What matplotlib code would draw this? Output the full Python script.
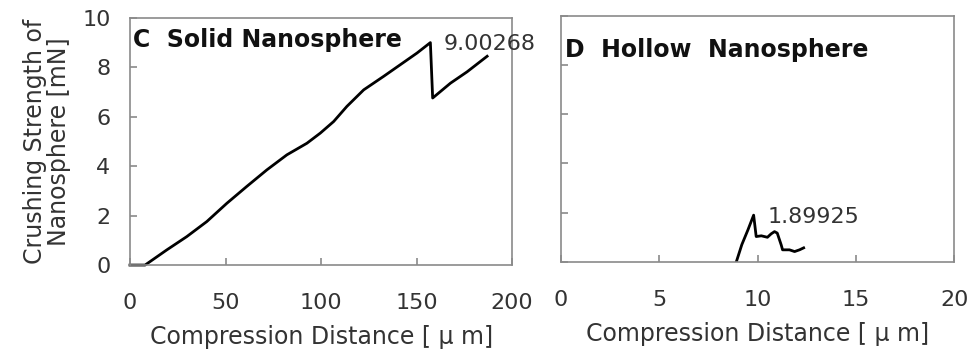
import matplotlib.pyplot as plt

# C: solid nanosphere
solid_x = [0, 7.9, 19.2, 29.7, 40.2, 50.7, 61.1, 71.6, 82.1, 92.6, 99.6, 106.6,
           113.5, 122.3, 132.8, 141.5, 150.2, 157.2, 158.4, 167.7, 176.4, 186.9]
solid_y = [0, 0, 0.61, 1.15, 1.76, 2.5, 3.18, 3.85, 4.46, 4.93, 5.34, 5.81,
           6.42, 7.09, 7.64, 8.11, 8.58, 9.00268, 6.76, 7.36, 7.82, 8.45]

# D: hollow nanosphere
hollow_x = [8.92, 9.2, 9.51, 9.8, 9.93, 10.19, 10.5, 10.69, 10.86, 11.0, 11.2,
            11.27, 11.62, 11.88, 12.13, 12.34]
hollow_y = [0.0, 0.7, 1.3, 1.89925, 1.03, 1.06, 1.0, 1.14, 1.23, 1.17, 0.69,
            0.49, 0.49, 0.42, 0.49, 0.57]

x_ticks_c = [0, 50, 100, 150, 200]
x_ticks_d = [0, 5, 10, 15, 20]
y_ticks = [0, 2, 4, 6, 8, 10]

txt = '#333333'
spine = '#8a8a8a'

fig = plt.figure(figsize=(9.7, 3.52), dpi=100)
ax1 = fig.add_axes([0.134, 0.247, 0.394, 0.702])
ax2 = fig.add_axes([0.578, 0.256, 0.406, 0.699])

for ax in (ax1, ax2):
    for s in ax.spines.values():
        s.set_color(spine)
        s.set_linewidth(1.2)
    ax.set_ylim(0, 10)
    ax.set_yticks(y_ticks)
    ax.tick_params(direction='in', color=spine, length=5, width=1.2,
                   labelsize=16, labelcolor=txt)
    ax.tick_params(axis='x', pad=20)
    ax.tick_params(axis='y', pad=14)
    ax.set_xlabel('Compression Distance [ μ m]', fontsize=17, color=txt, labelpad=9)

ax1.plot(solid_x, solid_y, color='black', lw=2, clip_on=False)
ax1.set_xlim(0, 200)
ax1.set_xticks(x_ticks_c)
ax1.set_ylabel('Crushing Strength of\nNanosphere [mN]', fontsize=17, color=txt,
               labelpad=8, linespacing=1.0)
ax1.text(1.5, 9.1, 'C  Solid Nanosphere', fontsize=17, fontweight='bold',
         color='#111111', va='center')
ax1.text(164, 8.95, '9.00268', fontsize=16, color=txt, va='center')

ax2.plot(hollow_x, hollow_y, color='black', lw=2)
ax2.set_xlim(0, 20)
ax2.set_xticks(x_ticks_d)
ax2.set_yticklabels([])
ax2.text(0.2, 8.6, 'D  Hollow  Nanosphere', fontsize=17, fontweight='bold',
         color='#111111', va='center')
ax2.text(10.5, 1.83, '1.89925', fontsize=16, color=txt, va='center')

fig.savefig('out.png', dpi=100)
